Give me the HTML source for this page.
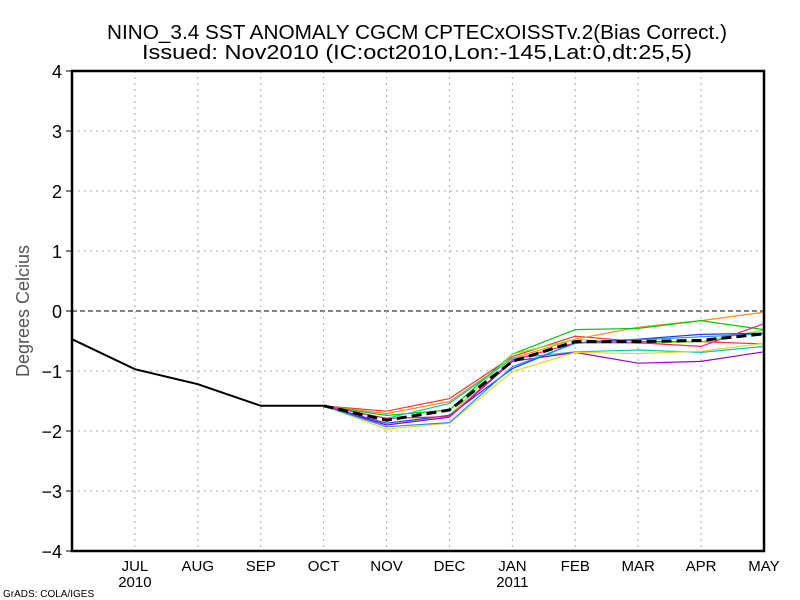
<!DOCTYPE html>
<html><head><meta charset="utf-8"><style>
body{margin:0;background:#fff;}
svg{display:block;font-family:"Liberation Sans",sans-serif;}
</style></head><body>
<svg id="chart" width="800" height="600" xmlns="http://www.w3.org/2000/svg">
<rect width="800" height="600" fill="#fff"/>
<text x="417" y="39" font-size="20" text-anchor="middle" fill="#000" textLength="620" lengthAdjust="spacingAndGlyphs">NINO_3.4 SST ANOMALY CGCM CPTECxOISSTv.2(Bias Correct.)</text>
<text x="417" y="59" font-size="20" text-anchor="middle" fill="#000" textLength="550" lengthAdjust="spacingAndGlyphs">Issued:  Nov2010 (IC:oct2010,Lon:-145,Lat:0,dt:25,5)</text>
<text transform="translate(29,311) rotate(-90)" font-size="18" text-anchor="middle" fill="#555">Degrees  Celcius</text>
<text x="3" y="597" font-size="10" fill="#000">GrADS: COLA/IGES</text>
<g id="grid"></g><g id="ticks"></g><g id="series"></g>
<rect x="72" y="71" width="692" height="480" fill="none" stroke="#000" stroke-width="2.5"/>
</svg>
<script>
const months=["JUN","JUL","AUG","SEP","OCT","NOV","DEC","JAN","FEB","MAR","APR","MAY"];
const yearLabels={1:"2010",7:"2011"};
const yTicks=[-4,-3,-2,-1,0,1,2,3,4];
const observed=[-0.47,-0.97,-1.22,-1.58,-1.58];
const memberColors=["#ff3030","#ff8c1a","#00cc00","#99dd22","#00c8c8","#1040ff","#9900cc","#e8d820","#ff1a80","#1a90ff"];
const mRed=[-1.58,-1.67,-1.46,-0.76,-0.42,-0.51,-0.51,-0.55];
const mOrange=[-1.58,-1.71,-1.51,-0.79,-0.47,-0.27,-0.16,-0.02];
const mGreen=[-1.58,-1.74,-1.65,-0.72,-0.31,-0.29,-0.16,-0.31];
const mYellowGreen=[-1.58,-1.90,-1.74,-0.72,-0.47,-0.54,-0.51,-0.32];
const mCyan=[-1.58,-1.79,-1.54,-0.79,-0.68,-0.65,-0.69,-0.59];
const mBlue=[-1.58,-1.87,-1.74,-0.96,-0.53,-0.47,-0.39,-0.37];
const mPurple=[-1.58,-1.90,-1.77,-0.84,-0.69,-0.87,-0.84,-0.68];
const mYellow=[-1.58,-1.97,-1.87,-1.01,-0.69,-0.71,-0.67,-0.54];
const mMagenta=[-1.58,-1.79,-1.76,-0.82,-0.53,-0.53,-0.59,-0.21];
const mDodger=[-1.58,-1.93,-1.86,-0.93,-0.54,-0.48,-0.43,-0.38];
const ensMean=[-1.58,-1.82,-1.65,-0.84,-0.51,-0.51,-0.49,-0.38];
const members=[mRed,mOrange,mGreen,mYellowGreen,mCyan,mBlue,mPurple,mYellow,mMagenta,mDodger];
const NS="http://www.w3.org/2000/svg";
const x=i=>72+i*(692/11);
const y=v=>311-v*60;
function mk(tag,parent,attrs){const e=document.createElementNS(NS,tag);for(const k in attrs)e.setAttribute(k,attrs[k]);document.getElementById(parent).appendChild(e);return e;}
yTicks.forEach(v=>{
  if(v!==4&&v!==-4){const g=mk("line","grid",{x1:72,x2:764,y1:y(v),y2:y(v),stroke:v===0?"#000":"#aaa","stroke-dasharray":v===0?"5,3":"2,4","stroke-width":1});
  
  }
  const t=mk("line","ticks",{x1:66,x2:72,y1:y(v),y2:y(v),stroke:"#000"});
  
  
  const l=mk("text","ticks",{x:62,y:y(v)+7,"font-size":18,"text-anchor":"end",fill:"#000"});
  l.textContent=(v<0?"\u2212":"")+Math.abs(v);
  
  
});
months.forEach((m,i)=>{
  if(i===0)return;
  if(i<11){const g=mk("line","grid",{x1:x(i),x2:x(i),y1:71,y2:551,stroke:"#aaa","stroke-dasharray":"2,4"});
  
  }
  const l=mk("text","ticks",{x:x(i),y:571,"font-size":15,"text-anchor":"middle",fill:"#000"});
  l.textContent=m;
  
  
  if(yearLabels[i]){const yl=mk("text","ticks",{x:x(i),y:587,"font-size":15,"text-anchor":"middle",fill:"#000"});
  yl.textContent=yearLabels[i];
  
  }
});
function pts(arr,start){return arr.map((v,i)=>x(start+i)+","+y(v)).join(" ");}
members.forEach((arr,k)=>{
  const p=mk("polyline","series",{points:pts(arr,4),fill:"none",stroke:memberColors[k],"stroke-width":1.2});
  
  
});
const mean=mk("polyline","series",{points:pts(ensMean,4),fill:"none",stroke:"#000","stroke-width":3,"stroke-dasharray":"10,5"});


const obs=mk("polyline","series",{points:pts(observed,0),fill:"none",stroke:"#000","stroke-width":2});


</script>
</body></html>
